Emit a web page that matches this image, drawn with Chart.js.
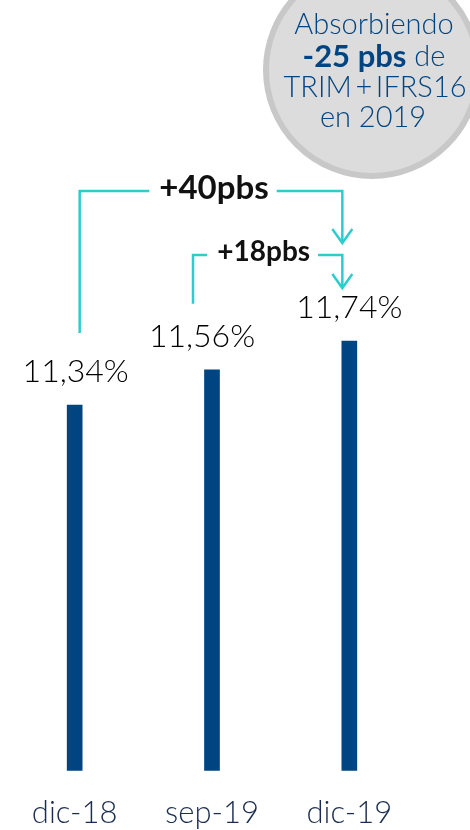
<!DOCTYPE html>
<html>
<head>
<meta charset="utf-8">
<script src="https://cdn.jsdelivr.net/npm/chart.js@4"></script>
<style>
  html, body { margin: 0; padding: 0; background: #fff; }
  canvas { display: block; }
</style>
</head>
<body>
<canvas id="ratioChart" width="470" height="830"></canvas>
<script>
// Ratio CET1 fully loaded por periodo
const categories = ['dic-18', 'sep-19', 'dic-19'];
const ratioValues = [11.34, 11.56, 11.74];
// Saltos entre periodos: desde / hasta / texto
const jumpFrom = [0, 1];
const jumpTo = [2, 2];
const jumpLabels = ['+40pbs', '+18pbs'];
// Texto del globo
const bubbleLines = ['Absorbiendo', '-25 pbs', ' de', 'TRIM\u2009+\u2009IFRS16', 'en 2019'];

const BLUE = '#004481';
const AQUA = '#2dcccd';
const LIGHT = '"Lato", "Roboto", sans-serif';

function fmtPct(v) {
    return v.toFixed(2).replace('.', ',') + '%';
}

// Etiquetas de valor encima de cada barra
const valueLabels = {
    id: 'valueLabels',
    afterDatasetsDraw(chart) {
        const ctx = chart.ctx;
        const meta = chart.getDatasetMeta(0);
        const shift = [1, -10, 0];
        ctx.save();
        ctx.font = '300 32px ' + LIGHT;
        ctx.fillStyle = '#000';
        ctx.textAlign = 'center';
        ctx.textBaseline = 'middle';
        meta.data.forEach((bar, i) => {
            ctx.fillText(fmtPct(ratioValues[i]), bar.x + shift[i], bar.y - 33);
        });
        ctx.restore();
    }
};

// Corchetes con flecha entre periodos
const jumpBrackets = {
    id: 'jumpBrackets',
    afterDatasetsDraw(chart) {
        const ctx = chart.ctx;
        const xs = chart.scales.x;
        const ys = chart.scales.y;
        const cfg = [
            { dx0: 5, dy0: -72, top: -150, dx1: -7, tip: -98, font: 'bold 33px ' },
            { dx0: -19, dy0: -66, top: -86, dx1: -7, tip: -53, font: 'bold 28px ' }
        ];
        ctx.save();
        ctx.strokeStyle = AQUA;
        ctx.lineWidth = 2.5;
        ctx.lineJoin = 'miter';
        jumpLabels.forEach((txt, k) => {
            const c = cfg[k];
            const a = jumpFrom[k], b = jumpTo[k];
            const x0 = xs.getPixelForValue(a) + c.dx0;
            const y0 = ys.getPixelForValue(ratioValues[a]) + c.dy0;
            const x1 = xs.getPixelForValue(b) + c.dx1;
            const yRef = ys.getPixelForValue(ratioValues[b]);
            const yTop = yRef + c.top;
            const yTip = yRef + c.tip;

            ctx.font = c.font + '"Lato", sans-serif';
            const w = ctx.measureText(txt).width;
            const xm = (x0 + x1) / 2 + (k === 0 ? 3 : -4);
            const g0 = xm - w / 2 - 10;
            const g1 = xm + w / 2 + 8;

            ctx.beginPath();
            ctx.moveTo(x0, y0);
            ctx.lineTo(x0, yTop);
            ctx.lineTo(g0, yTop);
            ctx.moveTo(g1, yTop);
            ctx.lineTo(x1, yTop);
            ctx.lineTo(x1, yTip);
            ctx.stroke();

            ctx.beginPath();
            ctx.moveTo(x1 - 10, yTip - 14);
            ctx.lineTo(x1, yTip);
            ctx.lineTo(x1 + 10, yTip - 14);
            ctx.stroke();

            ctx.fillStyle = '#111';
            ctx.textAlign = 'center';
            ctx.textBaseline = 'middle';
            ctx.fillText(txt, xm, yTop - 3);
        });
        ctx.restore();
    }
};

// Globo gris con la nota
const noteBubble = {
    id: 'noteBubble',
    afterDraw(chart) {
        const ctx = chart.ctx;
        const cx = 372, cy = 70, r = 106;
        ctx.save();
        ctx.beginPath();
        ctx.arc(cx, cy, r, 0, Math.PI * 2);
        ctx.fillStyle = '#dcdcdc';
        ctx.fill();
        ctx.lineWidth = 6;
        ctx.strokeStyle = '#c8c8c8';
        ctx.stroke();

        ctx.fillStyle = BLUE;
        ctx.textBaseline = 'middle';
        ctx.textAlign = 'center';
        ctx.font = '300 29px ' + LIGHT;
        ctx.fillText(bubbleLines[0], 374, 25);

        ctx.font = 'bold 31px "Lato", sans-serif';
        const wBold = ctx.measureText(bubbleLines[1]).width;
        ctx.font = '300 29px ' + LIGHT;
        const wRest = ctx.measureText(bubbleLines[2]).width;
        let x = 374 - (wBold + wRest) / 2;
        ctx.textAlign = 'left';
        ctx.font = 'bold 31px "Lato", sans-serif';
        ctx.fillText(bubbleLines[1], x, 57);
        ctx.font = '300 29px ' + LIGHT;
        ctx.fillText(bubbleLines[2], x + wBold, 57);

        ctx.textAlign = 'center';
        ctx.fillText(bubbleLines[3], 375, 88);
        ctx.fillText(bubbleLines[4], 373, 118);
        ctx.restore();
    }
};

new Chart(document.getElementById('ratioChart'), {
    type: 'bar',
    data: {
        labels: categories,
        datasets: [{
            data: ratioValues,
            backgroundColor: BLUE,
            barThickness: 15
        }]
    },
    options: {
        responsive: false,
        devicePixelRatio: 1,
        animation: false,
        layout: { padding: { left: 6, right: 52, top: 0, bottom: -18 } },
        plugins: {
            legend: { display: false },
            tooltip: { enabled: false }
        },
        scales: {
            x: {
                grid: { display: false },
                border: { display: false },
                ticks: {
                    color: '#1b2d4f',
                    padding: 16,
                    font: { family: 'Lato', weight: '300', size: 31 }
                }
            },
            y: {
                display: false,
                min: 9.05,
                max: 13.875
            }
        }
    },
    plugins: [valueLabels, jumpBrackets, noteBubble]
});
</script>
</body>
</html>
